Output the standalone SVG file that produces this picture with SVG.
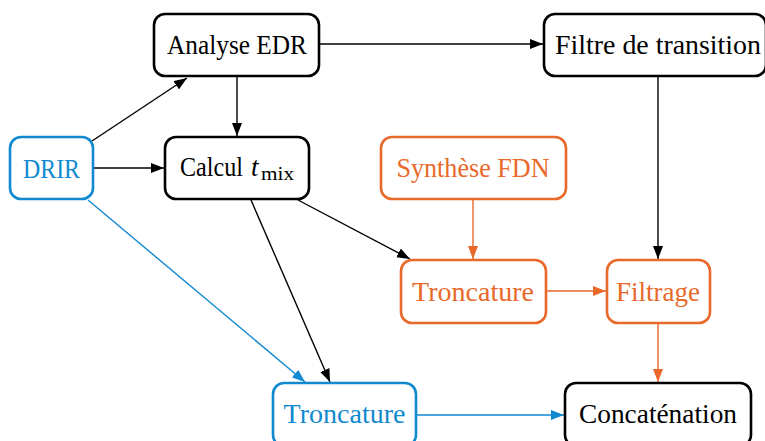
<svg xmlns="http://www.w3.org/2000/svg" width="765" height="441" viewBox="0 0 765 441">
<style>
.box{fill:#fff;stroke-width:2.6}
.k{stroke:#000}
.b{stroke:#1189cf}
.o{stroke:#e8692a}
text{font-family:"Liberation Serif","DejaVu Serif",serif;font-size:27px;text-anchor:middle}
.tk{fill:#000}
.tb{fill:#1189cf}
.to{fill:#e8692a}
.e{fill:none;stroke-width:1.4}
</style>
<defs>
<marker id="ak" markerWidth="13" markerHeight="10" refX="13" refY="5" orient="auto" markerUnits="userSpaceOnUse"><path d="M0,0 L13,5 L0,10 Z" fill="#000"/></marker>
<marker id="ab" markerWidth="13" markerHeight="10" refX="13" refY="5" orient="auto" markerUnits="userSpaceOnUse"><path d="M0,0 L13,5 L0,10 Z" fill="#1189cf"/></marker>
<marker id="ao" markerWidth="13" markerHeight="10" refX="13" refY="5" orient="auto" markerUnits="userSpaceOnUse"><path d="M0,0 L13,5 L0,10 Z" fill="#e8692a"/></marker>
</defs>
<g id="connectors">
<line class="e k" x1="92" y1="141" x2="187" y2="78" marker-end="url(#ak)"/>
<line class="e k" x1="94" y1="168" x2="164" y2="168" marker-end="url(#ak)"/>
<line class="e k" x1="237" y1="77" x2="237" y2="136" marker-end="url(#ak)"/>
<line class="e k" x1="320" y1="44" x2="543" y2="44" marker-end="url(#ak)"/>
<line class="e k" x1="298" y1="200" x2="410" y2="259" marker-end="url(#ak)"/>
<line class="e k" x1="251" y1="200" x2="330" y2="382" marker-end="url(#ak)"/>
<line class="e b" x1="88" y1="200" x2="305" y2="382" marker-end="url(#ab)"/>
<line class="e o" x1="473" y1="200" x2="473" y2="259" marker-end="url(#ao)"/>
<line class="e k" x1="658" y1="77" x2="658" y2="259" marker-end="url(#ak)"/>
<line class="e o" x1="547" y1="291" x2="606" y2="291" marker-end="url(#ao)"/>
<line class="e o" x1="658" y1="324" x2="658" y2="382" marker-end="url(#ao)"/>
<line class="e b" x1="417" y1="415" x2="564" y2="415" marker-end="url(#ab)"/>
</g>
<g id="analyse"><rect class="box k" x="154" y="14" width="165" height="62" rx="11"/><text class="tk" x="237" y="54" textLength="140" lengthAdjust="spacingAndGlyphs">Analyse EDR</text></g>
<g id="filtre"><rect class="box k" x="544" y="14" width="222" height="62" rx="11"/><text class="tk" x="658" y="54" textLength="206" lengthAdjust="spacingAndGlyphs">Filtre de transition</text></g>
<g id="drir"><rect class="box b" x="10" y="137" width="83" height="62" rx="11"/><text class="tb" x="51.5" y="178" textLength="57" lengthAdjust="spacingAndGlyphs">DRIR</text></g>
<g id="calcul"><rect class="box k" x="165" y="137" width="144" height="62" rx="11"/><text class="tk" x="180" y="176" style="text-anchor:start" textLength="63" lengthAdjust="spacingAndGlyphs">Calcul</text><text class="tk" x="251" y="176" style="text-anchor:start;font-style:italic">t</text><text class="tk" x="261" y="180" style="text-anchor:start;font-size:19px" textLength="33" lengthAdjust="spacingAndGlyphs">mix</text></g>
<g id="synthese"><rect class="box o" x="381" y="137" width="185" height="62" rx="11"/><text class="to" x="473" y="177" textLength="153" lengthAdjust="spacingAndGlyphs">Synthèse FDN</text></g>
<g id="tronc-o"><rect class="box o" x="401" y="260" width="145" height="63" rx="11"/><text class="to" x="473" y="301" textLength="122" lengthAdjust="spacingAndGlyphs">Troncature</text></g>
<g id="filtrage"><rect class="box o" x="607" y="260" width="103" height="63" rx="11"/><text class="to" x="658" y="301" textLength="84" lengthAdjust="spacingAndGlyphs">Filtrage</text></g>
<g id="tronc-b"><rect class="box b" x="273" y="383" width="143" height="63" rx="11"/><text class="tb" x="344.5" y="423" textLength="122" lengthAdjust="spacingAndGlyphs">Troncature</text></g>
<g id="concat"><rect class="box k" x="565" y="383" width="186" height="63" rx="11"/><text class="tk" x="658" y="423" textLength="158" lengthAdjust="spacingAndGlyphs">Concaténation</text></g>
</svg>
